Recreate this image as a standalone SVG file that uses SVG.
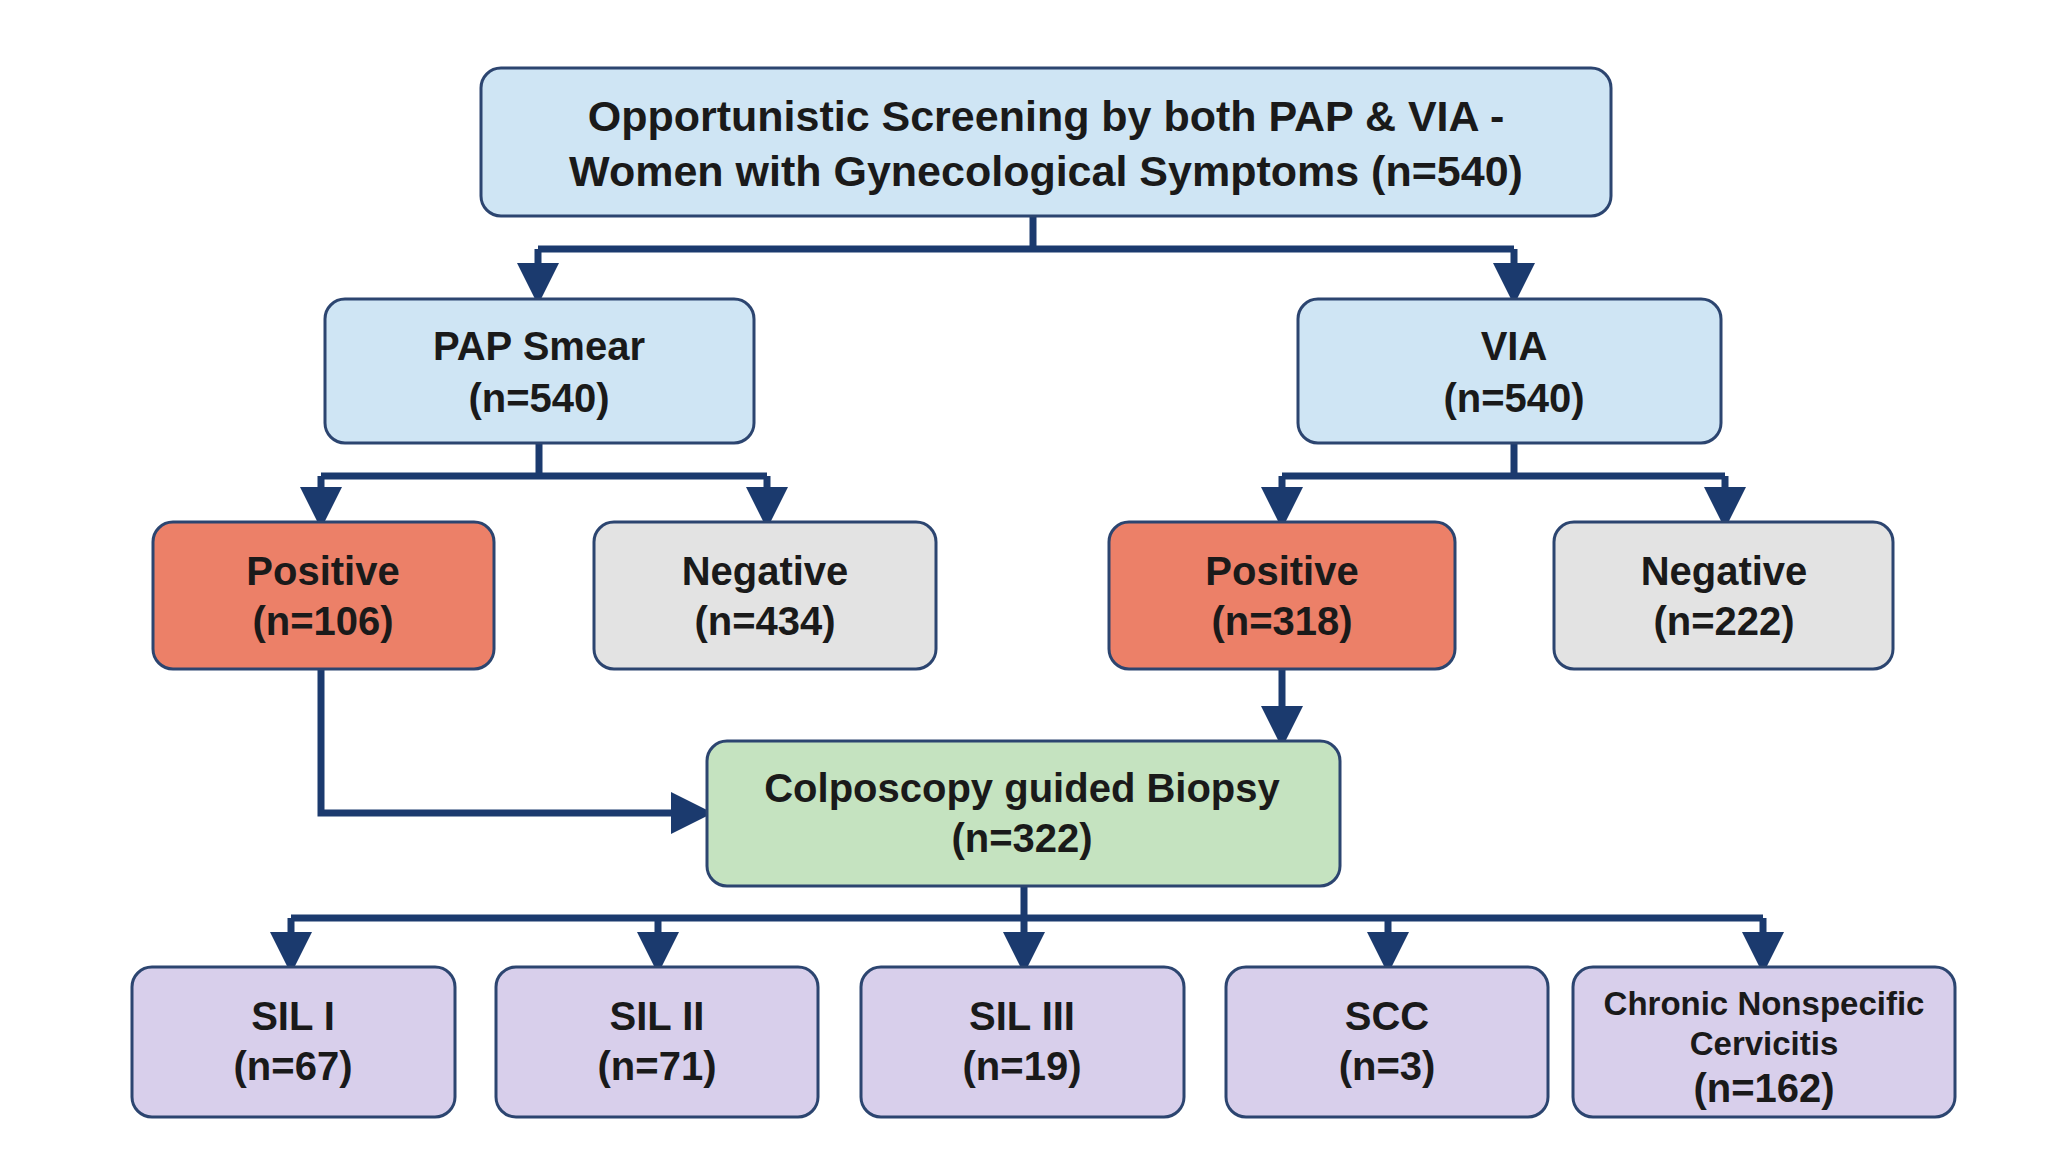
<svg xmlns="http://www.w3.org/2000/svg" width="2056" height="1175" viewBox="0 0 2056 1175">
<defs>
<marker id="ah" markerWidth="6" markerHeight="6" refX="3" refY="3" orient="auto" markerUnits="strokeWidth"><path d="M0,0 L6,3 L0,6 z" fill="#1b3a6e"/></marker>
<style>
.b{stroke:#2c4570;stroke-width:3}
.t{font-family:"Liberation Sans",Arial,sans-serif;font-weight:bold;fill:#1a1a1a;text-anchor:middle}
.c{fill:none;stroke:#1b3a6e;stroke-width:7;marker-end:url(#ah)}
.n{fill:none;stroke:#1b3a6e;stroke-width:7}
</style>
</defs>
<rect width="2056" height="1175" fill="#ffffff"/>
<g id="connectors">
<path class="n" d="M1033,216 V249 M538,249 H1514"/>
<path class="c" d="M538,249 V284"/>
<path class="c" d="M1514,249 V284"/>
<path class="n" d="M539,443 V476 M321,476 H767"/>
<path class="c" d="M321,476 V508"/>
<path class="c" d="M767,476 V508"/>
<path class="n" d="M1514,443 V476 M1282,476 H1725"/>
<path class="c" d="M1282,476 V508"/>
<path class="c" d="M1725,476 V508"/>
<path class="c" d="M1282,669 V727"/>
<path class="c" d="M321,669 V813 H692"/>
<path class="n" d="M1024,886 V918 M291,918 H1763"/>
<path class="c" d="M291,918 V953"/>
<path class="c" d="M658,918 V953"/>
<path class="c" d="M1024,918 V953"/>
<path class="c" d="M1388,918 V953"/>
<path class="c" d="M1763,918 V953"/>
</g>
<g id="top"><rect class="b" x="481" y="68" width="1130" height="148" rx="20" fill="#cfe5f4" stroke-width="5" stroke="#1b3a6e"/>
<text class="t" font-size="43" x="1046" y="131">Opportunistic Screening by both PAP &amp; VIA -</text>
<text class="t" font-size="43" x="1046" y="186">Women with Gynecological Symptoms (n=540)</text></g>
<g id="pap"><rect class="b" x="325" y="299" width="429" height="144" rx="20" fill="#cfe5f4"/>
<text class="t" font-size="40" x="539" y="360">PAP Smear</text><text class="t" font-size="40" x="539" y="412">(n=540)</text></g>
<g id="via"><rect class="b" x="1298" y="299" width="423" height="144" rx="20" fill="#cfe5f4"/>
<text class="t" font-size="40" x="1514" y="360">VIA</text><text class="t" font-size="40" x="1514" y="412">(n=540)</text></g>
<g id="pappos"><rect class="b" x="153" y="522" width="341" height="147" rx="20" fill="#ec8068"/>
<text class="t" font-size="40" x="323" y="585">Positive</text><text class="t" font-size="40" x="323" y="635">(n=106)</text></g>
<g id="papneg"><rect class="b" x="594" y="522" width="342" height="147" rx="20" fill="#e3e3e3"/>
<text class="t" font-size="40" x="765" y="585">Negative</text><text class="t" font-size="40" x="765" y="635">(n=434)</text></g>
<g id="viapos"><rect class="b" x="1109" y="522" width="346" height="147" rx="20" fill="#ec8068"/>
<text class="t" font-size="40" x="1282" y="585">Positive</text><text class="t" font-size="40" x="1282" y="635">(n=318)</text></g>
<g id="vianeg"><rect class="b" x="1554" y="522" width="339" height="147" rx="20" fill="#e3e3e3"/>
<text class="t" font-size="40" x="1724" y="585">Negative</text><text class="t" font-size="40" x="1724" y="635">(n=222)</text></g>
<g id="colpo"><rect class="b" x="707" y="741" width="633" height="145" rx="20" fill="#c5e3c0"/>
<text class="t" font-size="40" x="1022" y="802">Colposcopy guided Biopsy</text><text class="t" font-size="40" x="1022" y="852">(n=322)</text></g>
<g id="sil1"><rect class="b" x="132" y="967" width="323" height="150" rx="20" fill="#d8cfeb"/>
<text class="t" font-size="40" x="293" y="1030">SIL I</text><text class="t" font-size="40" x="293" y="1080">(n=67)</text></g>
<g id="sil2"><rect class="b" x="496" y="967" width="322" height="150" rx="20" fill="#d8cfeb"/>
<text class="t" font-size="40" x="657" y="1030">SIL II</text><text class="t" font-size="40" x="657" y="1080">(n=71)</text></g>
<g id="sil3"><rect class="b" x="861" y="967" width="323" height="150" rx="20" fill="#d8cfeb"/>
<text class="t" font-size="40" x="1022" y="1030">SIL III</text><text class="t" font-size="40" x="1022" y="1080">(n=19)</text></g>
<g id="scc"><rect class="b" x="1226" y="967" width="322" height="150" rx="20" fill="#d8cfeb"/>
<text class="t" font-size="40" x="1387" y="1030">SCC</text><text class="t" font-size="40" x="1387" y="1080">(n=3)</text></g>
<g id="chronic"><rect class="b" x="1573" y="967" width="382" height="150" rx="20" fill="#d8cfeb"/>
<text class="t" font-size="33" x="1764" y="1015">Chronic Nonspecific</text><text class="t" font-size="33" x="1764" y="1055">Cervicitis</text><text class="t" font-size="40" x="1764" y="1102">(n=162)</text></g>
</svg>
